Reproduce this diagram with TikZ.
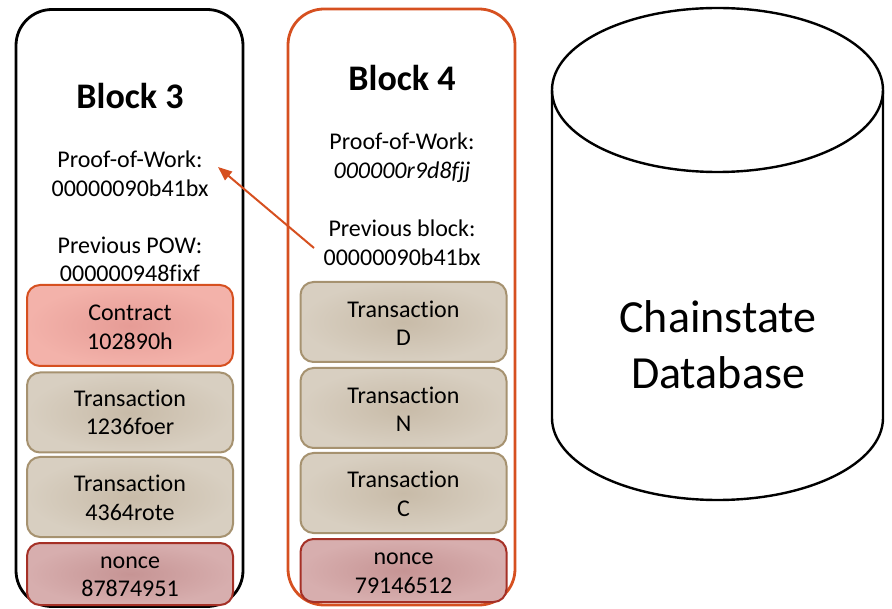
\documentclass[tikz,border=0pt]{standalone}
\usepackage{fontspec}
\setmainfont[RawFeature=-liga]{Carlito}
\usetikzlibrary{arrows.meta,calc}
\definecolor{orangeline}{RGB}{214,80,32}
\definecolor{contractin}{RGB}{230,156,150}
\definecolor{contractout}{RGB}{243,178,170}
\definecolor{transin}{RGB}{200,187,168}
\definecolor{transout}{RGB}{216,207,193}
\definecolor{transline}{RGB}{166,146,112}
\definecolor{noncein}{RGB}{198,148,148}
\definecolor{nonceout}{RGB}{215,174,174}
\definecolor{nonceline}{RGB}{165,48,38}
\newcommand\myBody{\fontsize{24}{28.5}\selectfont}
\newcommand\myTitle{\fontsize{36}{40}\selectfont\bfseries}
\begin{document}
\begin{tikzpicture}[x=1pt,y=-1pt,
  blockbox/.style={line width=2.8pt, rounded corners=36pt, minimum width=227pt, inner sep=0pt},
  itembox/.style={draw, rounded corners=13pt, line width=2pt, minimum width=206pt, align=center, font=\myBody, inner sep=0pt, shading=radial},
  contractbox/.style={itembox, draw=orangeline, inner color=contractin, outer color=contractout, minimum height=81pt},
  transbox/.style={itembox, draw=transline, inner color=transin, outer color=transout, minimum height=80pt},
  noncebox/.style={itembox, draw=nonceline, inner color=noncein, outer color=nonceout, minimum height=62pt},
  bodytext/.style={align=center, font=\myBody, inner sep=0pt},
  titletext/.style={font=\myTitle, inner sep=0pt},
  chainarrow/.style={draw=orangeline, line width=2pt, -{Triangle[length=14pt,width=11pt]}}
]
\useasboundingbox (0,0) rectangle (892,609);

% Block 3
\node[blockbox, draw=black, minimum height=597pt] (blk3) at (129.5,308) {};
\node[titletext] (b3title) at (130,96) {Block 3};
\node[bodytext] (b3pow) at (130,174) {Proof-of-Work:\\00000090b41bx};
\node[bodytext] (b3prev) at (130,259.5) {Previous POW:\\000000948fixf};
\node[contractbox] (b3c) at (130,325.5) {};
\node[bodytext] (b3ct) at ($(b3c.center)+(0,2)$) {Contract\\102890h};
\node[transbox] (b3t1) at (130,412.5) {Transaction\\1236foer};
\node[transbox] (b3t2) at (130,497) {};
\node[bodytext] (b3t2t) at ($(b3t2.center)+(0,1)$) {Transaction\\4364rote};
\node[noncebox] (b3n) at (130,574) {};
\node[bodytext] (b3nt) at ($(b3n.center)+(0,3)$) {nonce\\87874951};

% Block 4
\node[blockbox, draw=orangeline, minimum height=596pt] (blk4) at (401.5,307) {};
\node[titletext] (b4title) at (402,78) {Block 4};
\node[bodytext] (b4pow) at (402,157.5) {Proof-of-Work:\\\itshape 000000r9d8fjj};
\node[bodytext] (b4prev) at (402,243) {Previous block:\\00000090b41bx};
\node[transbox] (b4t1) at (403.5,322) {};
\node[bodytext] (b4t1t) at ($(b4t1.center)+(0,1)$) {Transaction\\D};
\node[transbox] (b4t2) at (403.5,408) {};
\node[bodytext] (b4t2t) at ($(b4t2.center)+(0,1)$) {Transaction\\N};
\node[transbox] (b4t3) at (403.5,493) {};
\node[bodytext] (b4t3t) at ($(b4t3.center)+(0,1)$) {Transaction\\C};
\node[noncebox, minimum height=63pt] (b4n) at (403.5,570.5) {};
\node[bodytext] (b4nt) at ($(b4n.center)+(0,3)$) {nonce\\79146512};

% Arrow
\coordinate (arrS) at ($(b4prev.center)+(-88,5)$);
\coordinate (arrE) at ($(b3pow.center)+(88,-7)$);
\draw[chainarrow] (arrS) -- (arrE);

% Cylinder
\draw[line width=2.4pt] (717.5,90) ellipse [x radius=165.5pt, y radius=82pt];
\draw[line width=2.4pt] (552,90) -- (552,418)
  arc[start angle=180, end angle=360, x radius=165.5pt, y radius=82pt] -- (883,90);
\node[align=center, font=\fontsize{46}{56}\selectfont, inner sep=0pt] (db) at (718,345) {Chainstate\\Database};
\end{tikzpicture}
\end{document}
